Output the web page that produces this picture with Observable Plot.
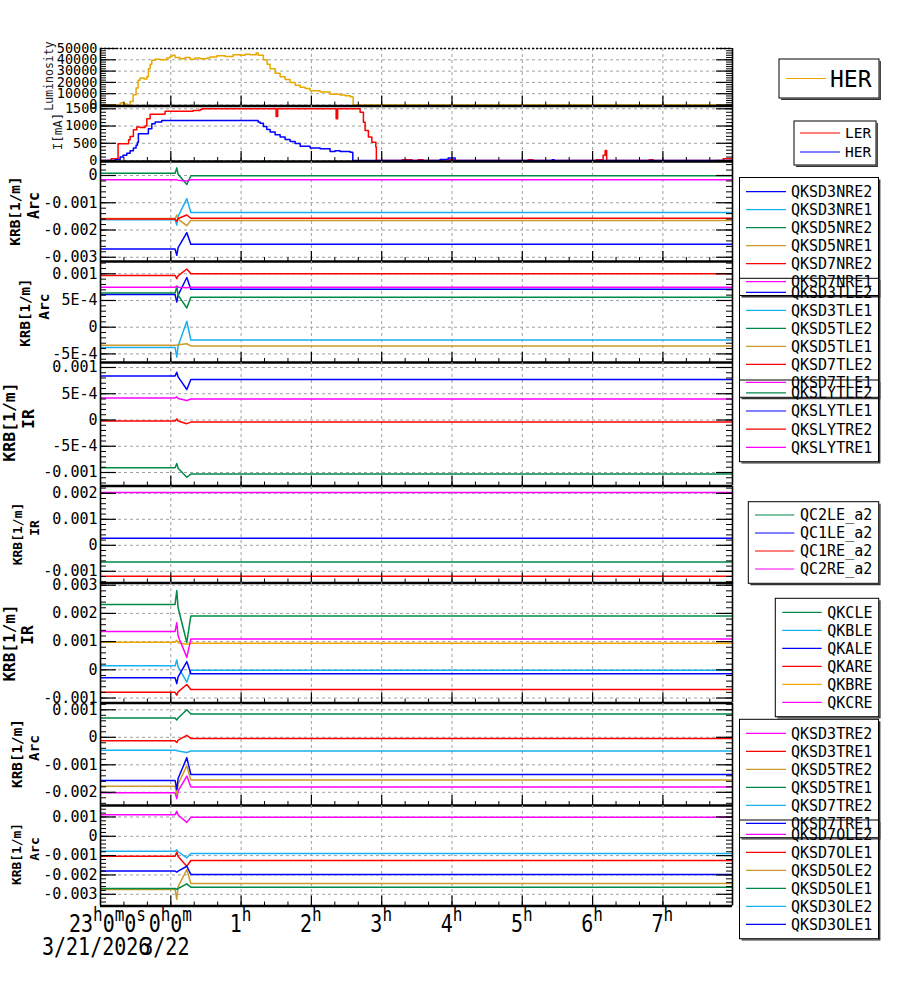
<!DOCTYPE html>
<html>
<head>
<meta charset="utf-8">
<script src="https://cdn.jsdelivr.net/npm/d3@7"></script>
<script src="https://cdn.jsdelivr.net/npm/@observablehq/plot@0.6"></script>
<style>
  html,body{margin:0;padding:0;background:#fff;}
  #root{position:relative;width:900px;height:984px;overflow:hidden;background:#fff;}
  .panel{position:absolute;left:0;}
  .panel svg{display:block;overflow:visible;}
  #overlay{position:absolute;left:0;top:0;}
</style>
</head>
<body>
<div id="root"></div>
<script>
// ---------------- data ----------------
// time in hours relative to 0:00 on 3/22 (23:00 on 3/21 = -1)
const X_DOMAIN = [-1, 7.99];
const HOUR_TICKS = [0, 1, 2, 3, 4, 5, 6, 7];
const TIME_TICK_T = [-1, 0, 1, 2, 3, 4, 5, 6, 7];
const TIME_TICK_LABELS = ["23h0m0s", "0h0m", "1h", "2h", "3h", "4h", "5h", "6h", "7h"];
const DATE_T = [-1, 0];
const DATE_LABELS = ["3/21/2026", "3/22"];

// Luminosity (HER legend)
const LUM_T = [-1.0, -0.736, -0.721, -0.707, -0.664, -0.622, -0.579, -0.536, -0.494, -0.465, -0.437, -0.380, -0.341, -0.319, -0.294, -0.270, -0.223, -0.152, -0.057, -0.010, 0.018, 0.061, 0.132, 0.203, 0.275, 0.346, 0.417, 0.512, 0.559, 0.654, 0.773, 0.886, 0.986, 1.057, 1.128, 1.214, 1.242, 1.317, 1.370, 1.413, 1.484, 1.555, 1.626, 1.697, 1.769, 1.840, 1.911, 1.982, 2.124, 2.266, 2.409, 2.480, 2.551, 2.586, 2.594, 7.99];
const LUM_V = [0, 0, 1500, 2000, 800, 0, 3000, 9000, 15000, 22000, 24000, 23000, 25000, 32000, 36000, 39500, 40500, 40000, 41500, 43000, 44000, 42000, 41000, 42000, 40500, 41500, 41000, 41500, 42500, 43500, 43000, 44500, 44000, 45000, 44500, 46000, 44000, 40000, 36000, 32000, 28000, 25000, 22500, 20000, 17500, 15600, 14500, 12600, 11500, 9500, 8800, 8200, 7200, 7000, 0, 0];

// Beam currents I[mA]
const LER_T = [-1.0, -0.849, -0.750, -0.600, -0.579, -0.532, -0.484, -0.437, -0.366, -0.341, -0.294, -0.110, -0.081, 0.317, 0.417, 0.445, 1.498, 1.520, 2.352, 2.373, 2.693, 2.740, 2.764, 2.811, 2.860, 2.916, 2.924, 3.291, 3.433, 3.518, 3.589, 3.860, 4.045, 5.083, 5.154, 6.051, 6.150, 6.179, 6.200, 6.805, 6.862, 7.858, 7.99];
const LER_V = [0, 50, 485, 600, 700, 890, 970, 960, 1000, 1210, 1340, 1350, 1430, 1450, 1480, 1500, 1280, 1500, 1210, 1500, 1400, 1110, 870, 680, 530, 390, 0, 20, 0, 20, 0, 20, 0, 20, 0, 20, 150, 290, 0, 20, 0, 50, 50];
const HER_T = [-1.0, -0.792, -0.764, -0.721, -0.679, -0.626, -0.579, -0.532, -0.494, -0.475, -0.461, -0.319, -0.270, -0.223, -0.128, 1.242, 1.270, 1.317, 1.366, 1.413, 1.484, 1.555, 1.626, 1.697, 1.769, 1.840, 1.982, 2.124, 2.266, 2.337, 2.409, 2.551, 2.589, 3.831, 3.945, 4.045, 5.425, 5.453, 7.99];
const HER_V = [0, 20, 30, 100, 150, 210, 280, 360, 440, 530, 775, 920, 1065, 1115, 1160, 1120, 1080, 990, 900, 825, 750, 680, 610, 550, 490, 410, 360, 340, 260, 280, 260, 240, 0, 30, 70, 0, 20, 0, 0];

// K-magnet strength series: shared sample times around the event near 0h05m
const EVT_T = [-1, 0.061, 0.085, 0.104, 0.228, 0.285, 7.99];
const FLAT_T = [-1, 7.99];

const NRE_NAMES = ["QKSD3NRE2", "QKSD3NRE1", "QKSD5NRE2", "QKSD5NRE1", "QKSD7NRE2", "QKSD7NRE1"];
const NRE_VALUES = [
  [-0.0027, -0.0027, -0.00293, -0.00265, -0.0021, -0.00252, -0.00252],
  [-0.00162, -0.00162, -0.00182, -0.0015, -0.00085, -0.00136, -0.00136],
  [0.00008, 0.00008, 0.00028, 0.00005, -0.00033, -0.00001, -0.00001],
  [-0.00158, -0.00158, -0.00145, -0.0016, -0.00184, -0.00165, -0.00165],
  [-0.0016, -0.0016, -0.00168, -0.00158, -0.00145, -0.00157, -0.00157],
  [-0.00016, -0.00016, -0.00016, -0.00017, -0.0002, -0.00016, -0.00016]
];
const TLE_NAMES = ["QKSD3TLE2", "QKSD3TLE1", "QKSD5TLE2", "QKSD5TLE1", "QKSD7TLE2", "QKSD7TLE1"];
const TLE_VALUES = [
  [0.00061, 0.00061, 0.00047, 0.0006, 0.00093, 0.00071, 0.00071],
  [-0.00038, -0.00038, -0.00056, -0.00035, 0.00011, -0.00024, -0.00024],
  [0.00064, 0.00064, 0.00076, 0.0006, 0.00036, 0.00056, 0.00056],
  [-0.00034, -0.00034, -0.00034, -0.00033, -0.00031, -0.00035, -0.00035],
  [0.00097, 0.00097, 0.00091, 0.00096, 0.00109, 0.001, 0.001],
  [0.00075, 0.00075, 0.00077, 0.00075, 0.00074, 0.00075, 0.00075]
];
const SLY_NAMES = ["QKSLYTLE2", "QKSLYTLE1", "QKSLYTRE2", "QKSLYTRE1"];
const SLY_VALUES = [
  [-0.00091, -0.00091, -0.00083, -0.00092, -0.00109, -0.00103, -0.00103],
  [0.00084, 0.00084, 0.00091, 0.00082, 0.00058, 0.00077, 0.00077],
  [-0.00002, -0.00002, 0.00002, -0.00002, -0.00007, -0.00004, -0.00004],
  [0.00042, 0.00042, 0.00044, 0.00041, 0.00037, 0.0004, 0.0004]
];
const QC_NAMES = ["QC2LE_a2", "QC1LE_a2", "QC1RE_a2", "QC2RE_a2"];
const QC_VALUES = [
  [-0.00064, -0.00064],
  [0.00027, 0.00027],
  [-0.00119, -0.00119],
  [0.00203, 0.00203]
];
const QK_NAMES = ["QKCLE", "QKBLE", "QKALE", "QKARE", "QKBRE", "QKCRE"];
const QK_VALUES = [
  [0.00232, 0.00232, 0.00281, 0.0022, 0.00097, 0.00191, 0.00191],
  [0.00014, 0.00014, 0.00035, 0.0001, -0.00044, -0.00002, -0.00002],
  [-0.00028, -0.00028, -0.00049, -0.00025, 0.00029, -0.00014, -0.00014],
  [-0.0008, -0.0008, -0.0009, -0.00078, -0.00052, -0.0007, -0.0007],
  [0.00098, 0.00098, 0.00105, 0.00096, 0.00091, 0.00094, 0.00094],
  [0.00136, 0.00136, 0.00167, 0.0012, 0.00044, 0.00109, 0.00109]
];
const TRE_NAMES = ["QKSD3TRE2", "QKSD3TRE1", "QKSD5TRE2", "QKSD5TRE1", "QKSD7TRE2", "QKSD7TRE1"];
const TRE_VALUES = [
  [-0.00202, -0.00202, -0.00223, -0.00195, -0.00141, -0.00181, -0.00181],
  [-0.00013, -0.00013, -0.00019, -0.0001, 0.00007, -0.00004, -0.00004],
  [-0.00178, -0.00178, -0.00208, -0.0017, -0.00104, -0.00155, -0.00155],
  [0.0007, 0.0007, 0.00063, 0.0007, 0.001, 0.00085, 0.00085],
  [-0.00047, -0.00047, -0.00048, -0.0005, -0.00055, -0.0005, -0.0005],
  [-0.00157, -0.00157, -0.0019, -0.0015, -0.00074, -0.00135, -0.00135]
];
const OLE_NAMES = ["QKSD7OLE2", "QKSD7OLE1", "QKSD5OLE2", "QKSD5OLE1", "QKSD3OLE2", "QKSD3OLE1"];
const OLE_VALUES = [
  [0.00112, 0.00112, 0.00129, 0.0011, 0.00072, 0.00098, 0.00098],
  [-0.00103, -0.00103, -0.00081, -0.00105, -0.00155, -0.00125, -0.00125],
  [-0.00275, -0.00275, -0.00326, -0.0026, -0.00172, -0.00244, -0.00244],
  [-0.0027, -0.0027, -0.00275, -0.0027, -0.00246, -0.00263, -0.00263],
  [-0.00077, -0.00077, -0.0007, -0.0008, -0.00112, -0.00089, -0.00089],
  [-0.0018, -0.0018, -0.00185, -0.0018, -0.00155, -0.00197, -0.00197]
];

// y tick values / labels
const LUM_TICKS = [0, 10000, 20000, 30000, 40000, 50000];
const LUM_LABELS = ["0", "10000", "20000", "30000", "40000", "50000"];
const CUR_TICKS = [0, 500, 1000, 1500];
const CUR_LABELS = ["0", "500", "1000", "1500"];
const NRE_TICKS = [0, -0.001, -0.002, -0.003];
const NRE_LABELS = ["0", "-0.001", "-0.002", "-0.003"];
const TLE_TICKS = [0.001, 0.0005, 0, -0.0005];
const TLE_LABELS = ["0.001", "5E-4", "0", "-5E-4"];
const SLY_TICKS = [0.001, 0.0005, 0, -0.0005, -0.001];
const SLY_LABELS = ["0.001", "5E-4", "0", "-5E-4", "-0.001"];
const QC_TICKS = [0.002, 0.001, 0, -0.001];
const QC_LABELS = ["0.002", "0.001", "0", "-0.001"];
const QK_TICKS = [0.003, 0.002, 0.001, 0, -0.001];
const QK_LABELS = ["0.003", "0.002", "0.001", "0", "-0.001"];
const TRE_TICKS = [0.001, 0, -0.001, -0.002];
const TRE_LABELS = ["0.001", "0", "-0.001", "-0.002"];
const OLE_TICKS = [0.001, 0, -0.001, -0.002, -0.003];
const OLE_LABELS = ["0.001", "0", "-0.001", "-0.002", "-0.003"];

// ---------------- styles ----------------
const FONT = "DejaVu Sans Mono";
const BLUE = "#0000ff", CYAN = "#18b0ee", GREEN = "#008a48", GOLD = "#cc9a2a",
      RED = "#ff0000", MAGENTA = "#ff00ff", ORANGE = "#f0a800", LUMC = "#e8a800";
const NRE_COLORS = [BLUE, CYAN, GREEN, GOLD, RED, MAGENTA];
const TLE_COLORS = [BLUE, CYAN, GREEN, GOLD, RED, MAGENTA];
const SLY_COLORS = [GREEN, BLUE, RED, MAGENTA];
const QC_COLORS = [GREEN, BLUE, RED, MAGENTA];
const QK_COLORS = [GREEN, CYAN, BLUE, RED, ORANGE, MAGENTA];
const TRE_COLORS = [MAGENTA, RED, GOLD, GREEN, CYAN, BLUE];
const OLE_COLORS = [MAGENTA, RED, GOLD, GREEN, CYAN, BLUE];

const W = 900, ML = 100, MR = 168, PW = W - ML - MR;
const X_MINOR = d3.range(0, 27).map(k => -1 + k / 3);

function group(t, names, values, colors) {
  return values.map((v, i) => ({name: names[i], t, v, color: colors[i], curve: "linear"}));
}

const PANELS = [
  {top: 47.5, bottom: 105, domain: [-885, 50000], ticks: LUM_TICKS, labels: LUM_LABELS, minorStep: 2000, fs: 13.5, dottedTop: true,
   series: [{t: LUM_T, v: LUM_V, color: LUMC, curve: "step-after"}]},
  {top: 105, bottom: 161, domain: [-29, 1596], ticks: CUR_TICKS, labels: CUR_LABELS, minorStep: 100, fs: 13.5,
   series: [{t: LER_T, v: LER_V, color: RED, curve: "step-after"}, {t: HER_T, v: HER_V, color: BLUE, curve: "step-after"}]},
  {top: 161, bottom: 261, domain: [-0.003156, 0.000514], ticks: NRE_TICKS, labels: NRE_LABELS, minorStep: 0.0002, fs: 15,
   series: group(EVT_T, NRE_NAMES, NRE_VALUES, NRE_COLORS)},
  {top: 261, bottom: 362, domain: [-0.000661, 0.00123], ticks: TLE_TICKS, labels: TLE_LABELS, minorStep: 0.0001, fs: 15,
   series: group(EVT_T, TLE_NAMES, TLE_VALUES, TLE_COLORS)},
  {top: 362, bottom: 485.5, domain: [-0.001257, 0.001095], ticks: SLY_TICKS, labels: SLY_LABELS, minorStep: 0.0001, fs: 15,
   series: group(EVT_T, SLY_NAMES, SLY_VALUES, SLY_COLORS)},
  {top: 485.5, bottom: 582, domain: [-0.00145, 0.002262], ticks: QC_TICKS, labels: QC_LABELS, minorStep: 0.0002, fs: 15,
   series: group(FLAT_T, QC_NAMES, QC_VALUES, QC_COLORS)},
  {top: 582, bottom: 702.5, domain: [-0.001177, 0.003096], ticks: QK_TICKS, labels: QK_LABELS, minorStep: 0.0002, fs: 15,
   series: group(EVT_T, QK_NAMES, QK_VALUES, QK_COLORS)},
  {top: 702.5, bottom: 804.5, domain: [-0.00248, 0.001229], ticks: TRE_TICKS, labels: TRE_LABELS, minorStep: 0.0002, fs: 15,
   series: group(EVT_T, TRE_NAMES, TRE_VALUES, TRE_COLORS)},
  {top: 804.5, bottom: 905, domain: [-0.003606, 0.001593], ticks: OLE_TICKS, labels: OLE_LABELS, minorStep: 0.0002, fs: 15,
   series: group(EVT_T, OLE_NAMES, OLE_VALUES, OLE_COLORS)}
];

const root = document.getElementById("root");
let lastPlot = null;

PANELS.forEach(p => {
  const h = p.bottom - p.top;
  const [lo, hi] = p.domain;
  const minor = d3.range(Math.ceil(lo / p.minorStep - 1e-9), Math.floor(hi / p.minorStep + 1e-9) + 1).map(k => k * p.minorStep);
  const grid = {stroke: "#a0a0a0", strokeWidth: 1, strokeDasharray: "3,3"};
  const marks = [
    Plot.ruleX(HOUR_TICKS, {x: d => d, ...grid}),
    Plot.ruleY(p.ticks, {y: d => d, ...grid})
  ];
  p.series.forEach(s => {
    marks.push(Plot.line(s.t.map((t, i) => ({t, v: s.v[i]})),
      {x: "t", y: "v", stroke: s.color, strokeWidth: 1.5, curve: s.curve, clip: true}));
  });
  marks.push(
    Plot.tickY(minor, {y: d => d, insetRight: PW - 6, stroke: "black"}),
    Plot.tickY(p.ticks, {y: d => d, insetRight: PW - 16, stroke: "black", strokeWidth: 1.2}),
    Plot.tickY(minor, {y: d => d, insetLeft: PW - 6, stroke: "black"}),
    Plot.tickY(p.ticks, {y: d => d, insetLeft: PW - 16, stroke: "black", strokeWidth: 1.2}),
    Plot.tickX(X_MINOR, {x: d => d, insetTop: h - 4, stroke: "black"}),
    Plot.tickX(HOUR_TICKS, {x: d => d, insetTop: h - 10, stroke: "black", strokeWidth: 1.2}),
    Plot.ruleX([X_DOMAIN[0]], {stroke: "black", strokeWidth: 1.6}),
    Plot.ruleX([X_DOMAIN[1]], {stroke: "black", strokeWidth: 1.6}),
    Plot.ruleY([lo], {stroke: "black", strokeWidth: 2.6}),
    Plot.text(p.ticks, {y: d => d, text: (d, i) => p.labels[i], frameAnchor: "left", textAnchor: "end", dx: -3, fontSize: p.fs, fill: "black"})
  );
  if (p.dottedTop) marks.push(Plot.ruleY([hi], {stroke: "black", strokeWidth: 1.4, strokeDasharray: "2,2"}));
  const plot = Plot.plot({
    width: W, height: h, marginLeft: ML, marginRight: MR, marginTop: 0, marginBottom: 0,
    x: {domain: X_DOMAIN, axis: null},
    y: {domain: p.domain, axis: null},
    style: {background: "transparent", overflow: "visible", fontFamily: FONT, color: "black"},
    marks
  });
  const div = document.createElement("div");
  div.className = "panel";
  div.style.top = p.top + "px";
  div.appendChild(plot);
  root.appendChild(div);
  lastPlot = plot;
});

// ---------------- overlay: titles, legends, time labels ----------------
const svg = d3.create("svg").attr("id", "overlay").attr("width", 900).attr("height", 984)
  .attr("font-family", FONT).attr("fill", "black");

// y-axis titles
const YTITLES = [
  {lines: [["Luminosity", 48.5, 76, 11.5, "normal"]]},
  {lines: [["I[mA]", 57.5, 131.5, 12.5, "normal"]]},
  {lines: [["KRB[1/m]", 15, 211, 14.4, "bold"], ["Arc", 34, 205.5, 15, "bold"]]},
  {lines: [["KRB[1/m]", 25, 312.5, 14.2, "bold"], ["Arc", 43.5, 306.7, 14.5, "bold"]]},
  {lines: [["KRB[1/m]", 9, 422, 16.5, "bold"], ["IR", 28, 419, 16.5, "bold"]]},
  {lines: [["KRB[1/m]", 17, 534, 13, "bold"], ["IR", 34, 528, 13, "bold"]]},
  {lines: [["KRB[1/m]", 9, 643, 16, "bold"], ["IR", 27.5, 635, 16, "bold"]]},
  {lines: [["KRB[1/m]", 16.7, 753.5, 14.3, "bold"], ["Arc", 34, 748, 14.3, "bold"]]},
  {lines: [["KRB[1/m]", 16.7, 854, 12.9, "bold"], ["Arc", 34, 849, 13, "bold"]]}
];
YTITLES.forEach(t => t.lines.forEach(([s, cx, cy, fs, fw]) => {
  svg.append("text").attr("transform", `translate(${cx},${cy}) rotate(-90)`)
    .attr("text-anchor", "middle").attr("dy", "0.36em").attr("font-size", fs).attr("font-weight", fw)
    .attr("fill", fw === "bold" ? "#000" : "#222").text(s);
}));

// legends
const LEGENDS = [
  {box: [779, 59, 879, 98], y0: 78.5, step: 0, s: [786, 826], tx: 830, fs: 23, names: ["HER"], colors: [LUMC]},
  {box: [794, 121, 876, 165], y0: 133, step: 19, s: [800, 840], tx: 845, fs: 14.5, names: ["LER", "HER"], colors: [RED, BLUE]},
  {box: [739.5, 177.5, 878.5, 295.5], y0: 191.7, step: 18, s: [746, 786], tx: 791, fs: 15, names: NRE_NAMES, colors: NRE_COLORS},
  {box: [739.5, 278.3, 878.5, 397.3], y0: 292.3, step: 18, s: [746, 786], tx: 791, fs: 15, names: TLE_NAMES, colors: TLE_COLORS},
  {box: [739.5, 380, 878.5, 461.7], y0: 392.8, step: 18.2, s: [746, 786], tx: 791, fs: 15, names: SLY_NAMES, colors: SLY_COLORS},
  {box: [748.3, 501.7, 878.7, 583.3], y0: 515, step: 18, s: [755, 794.3], tx: 800, fs: 15, names: QC_NAMES, colors: QC_COLORS},
  {box: [775.3, 598.3, 878.7, 716.7], y0: 612.3, step: 18, s: [782.3, 821.7], tx: 827.3, fs: 15, names: QK_NAMES, colors: QK_COLORS},
  {box: [739.5, 719.3, 878.5, 837.7], y0: 733.3, step: 18, s: [746, 786], tx: 791, fs: 15, names: TRE_NAMES, colors: TRE_COLORS},
  {box: [739.5, 820, 878.5, 938.7], y0: 834.3, step: 18, s: [746, 786], tx: 791, fs: 15, names: OLE_NAMES, colors: OLE_COLORS}
];
LEGENDS.forEach(L => {
  const [x0, y0, x1, y1] = L.box;
  const g = svg.append("g");
  g.append("rect").attr("x", x0).attr("y", y0).attr("width", x1 - x0).attr("height", y1 - y0)
    .attr("fill", "none").attr("stroke", "black").attr("stroke-width", 1);
  g.append("path").attr("d", `M${x1 + 1.2},${y0 + 2}V${y1 + 1.2}H${x0 + 2}`)
    .attr("fill", "none").attr("stroke", "#333").attr("stroke-width", 1.4);
  L.names.forEach((n, i) => {
    const y = L.y0 + i * L.step;
    g.append("line").attr("x1", L.s[0]).attr("x2", L.s[1]).attr("y1", y).attr("y2", y)
      .attr("stroke", L.colors[i]).attr("stroke-width", 1.2);
    g.append("text").attr("x", L.tx).attr("y", y).attr("dy", "0.36em").attr("font-size", L.fs).text(n);
  });
});

// time axis labels (positions from the Plot x scale)
const xs = lastPlot.scale("x");
TIME_TICK_T.forEach((t, i) => {
  const first = i === 0;
  const g = svg.append("g").attr("transform", `translate(${xs.apply(t) + (first ? 46 : 0)},931.5) scale(1,1.2)`);
  const text = g.append("text").attr("text-anchor", first ? "end" : "middle").attr("font-size", 20);
  let cur = 0;
  TIME_TICK_LABELS[i].match(/\d+|[a-z]+/g).forEach(part => {
    const sup = /[a-z]/.test(part);
    const target = sup ? -9 : 0;
    text.append("tspan").attr("dy", target - cur).attr("font-size", sup ? 16 : 20).text(part);
    cur = target;
  });
});
DATE_T.forEach((t, i) => {
  const off = i === 0 ? -58 : -29;
  svg.append("g").attr("transform", `translate(${xs.apply(t) + off},955) scale(1,1.2)`)
    .append("text").attr("font-size", 20).text(DATE_LABELS[i]);
});

root.appendChild(svg.node());
</script>
</body>
</html>
